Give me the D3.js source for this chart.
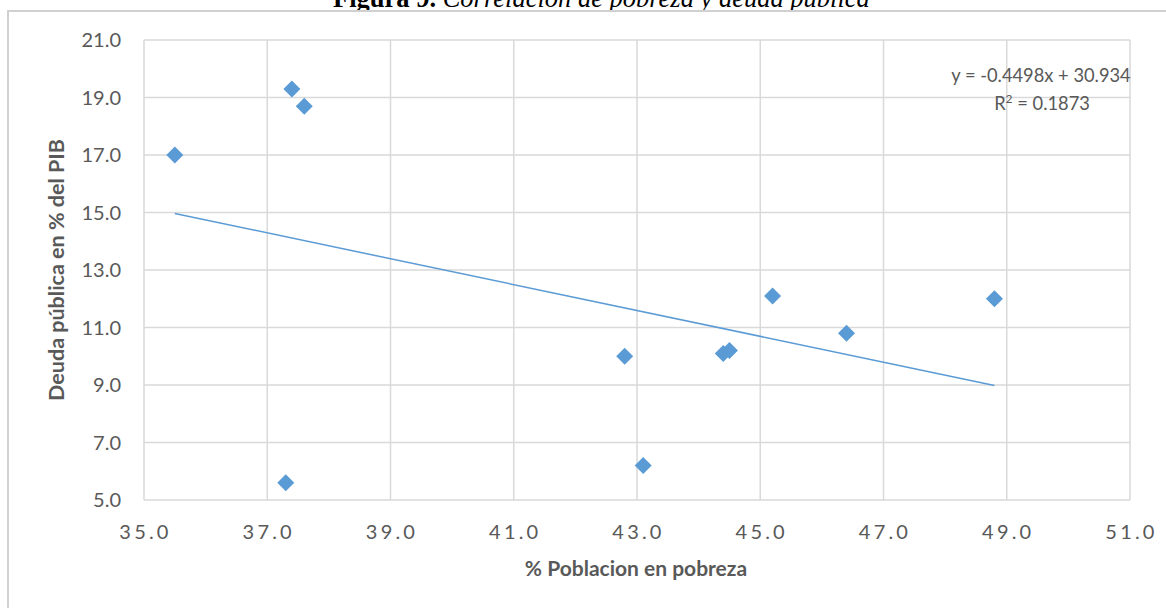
<!DOCTYPE html>
<html>
<head>
<meta charset="utf-8">
<script src="https://cdn.jsdelivr.net/npm/d3@7"></script>
<style>
  html, body { margin: 0; padding: 0; background: #fff; }
  svg { display: block; }
</style>
</head>
<body>
<svg id="chart" width="1166" height="608"></svg>
<script>
// Poverty rate (%) vs public debt (% of GDP)
const pobreza = [35.5, 37.4, 37.6, 37.3, 42.8, 43.1, 44.4, 44.5, 45.2, 46.4, 48.8];
const deuda   = [17.0, 19.3, 18.7, 5.6, 10.0, 6.2, 10.1, 10.2, 12.1, 10.8, 12.0];

// Linear trendline as reported on the chart
const pendiente = -0.4498;
const intercepto = 30.934;
const r2 = 0.1873;

const xTicks = [35, 37, 39, 41, 43, 45, 47, 49, 51];
const yTicks = [5, 7, 9, 11, 13, 15, 17, 19, 21];

const svg = d3.select("#chart");
const W = 1166, H = 608;

const x = d3.scaleLinear().domain([35, 51]).range([144, 1130]);
const y = d3.scaleLinear().domain([5, 21]).range([500, 40]);

// Figure caption (partly hidden behind the chart frame)
const title = svg.append("text")
  .attr("x", 333).attr("y", 6.5)
  .attr("font-family", "'Liberation Serif', 'Times New Roman', serif")
  .attr("font-size", 26.5)
  .attr("fill", "#000");
title.append("tspan").attr("font-weight", "bold").text("Figura 9.");
title.append("tspan").attr("font-style", "italic").text(" Correlación de pobreza y deuda pública");

// Chart area background and frame
svg.append("rect").attr("x", 8).attr("y", 11).attr("width", W - 8).attr("height", H - 11).attr("fill", "#fff");
svg.append("path")
  .attr("d", `M8,${H} L8,11 L${W},11`)
  .attr("fill", "none").attr("stroke", "#d0d0d0").attr("stroke-width", 2);

const grid = svg.append("g");
grid.selectAll("line.v").data(xTicks).join("line")
  .attr("x1", d => x(d)).attr("x2", d => x(d))
  .attr("y1", y(21)).attr("y2", y(5))
  .attr("stroke", "#d9d9d9").attr("stroke-width", 1.5);
grid.selectAll("line.h").data(yTicks).join("line")
  .attr("x1", x(35)).attr("x2", x(51))
  .attr("y1", d => y(d)).attr("y2", d => y(d))
  .attr("stroke", "#d9d9d9").attr("stroke-width", 1.5);

// Tick labels
const font = "Lato, 'Open Sans', sans-serif";
svg.append("g").selectAll("text").data(yTicks).join("text")
  .attr("x", 121).attr("y", d => y(d)).attr("dy", "0.36em")
  .attr("text-anchor", "end")
  .attr("font-family", font).attr("font-size", 20).attr("fill", "#595959")
  .text(d => d3.format(".1f")(d));

svg.append("g").selectAll("text").data(xTicks).join("text")
  .attr("x", d => x(d) + 1.5).attr("y", 539)
  .attr("text-anchor", "middle")
  .attr("font-family", font).attr("font-size", 20).attr("fill", "#595959")
  .attr("letter-spacing", "3.2px")
  .text(d => d3.format(".1f")(d));

// Axis titles
svg.append("text")
  .attr("transform", "translate(64,270) rotate(-90)")
  .attr("text-anchor", "middle")
  .attr("font-family", font).attr("font-size", 21.5).attr("font-weight", "bold").attr("fill", "#595959")
  .text("Deuda pública en % del PIB");

svg.append("text")
  .attr("x", 636).attr("y", 576)
  .attr("text-anchor", "middle")
  .attr("font-family", font).attr("font-size", 21).attr("font-weight", "bold").attr("fill", "#595959")
  .text("% Poblacion en pobreza");

// Trendline over the observed x range
const xMin = d3.min(pobreza), xMax = d3.max(pobreza);
svg.append("line")
  .attr("x1", x(xMin)).attr("y1", y(pendiente * xMin + intercepto))
  .attr("x2", x(xMax)).attr("y2", y(pendiente * xMax + intercepto))
  .attr("stroke", "#5b9bd5").attr("stroke-width", 1.5);

// Diamond markers
const pts = pobreza.map((v, i) => [v, deuda[i]]);
const r = 8.5;
svg.append("g").selectAll("path").data(pts).join("path")
  .attr("d", d => {
    const cx = x(d[0]), cy = y(d[1]);
    return `M${cx},${cy - r} L${cx + r},${cy} L${cx},${cy + r} L${cx - r},${cy} Z`;
  })
  .attr("fill", "#5b9bd5");

// Trendline equation
const eq = svg.append("g").attr("font-family", font).attr("font-size", 18.3).attr("fill", "#595959").attr("text-anchor", "middle");
eq.append("text").attr("x", 1041).attr("y", 82)
  .text(`y = ${pendiente}x + ${intercepto}`);
const rt = eq.append("text").attr("x", 1042).attr("y", 110);
rt.append("tspan").text("R");
rt.append("tspan").attr("font-size", 12).attr("dy", -7).text("2");
rt.append("tspan").attr("dy", 7).text(` = ${r2}`);
</script>
</body>
</html>
